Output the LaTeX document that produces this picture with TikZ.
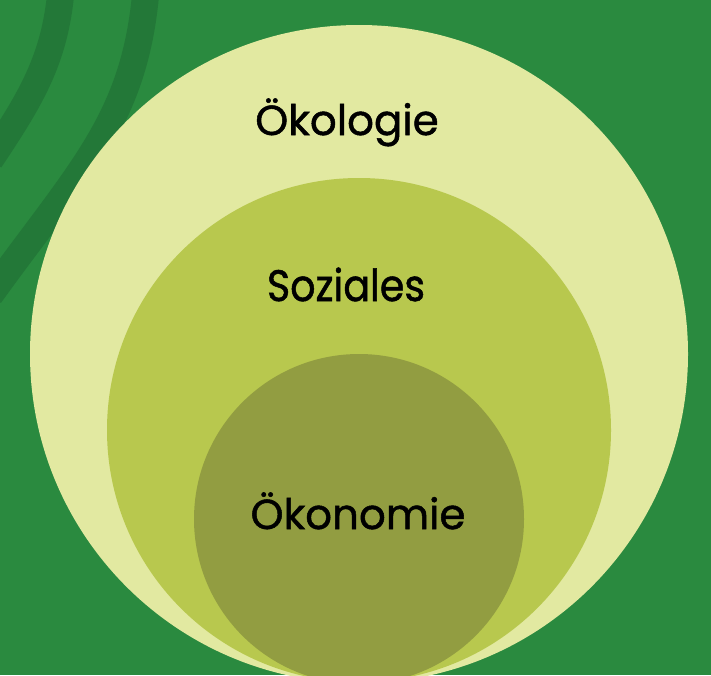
\documentclass[tikz,border=0pt]{standalone}
\usepackage{fontspec}
\setmainfont{Poppins}
\newfontfamily\labelfont{Poppins}[FakeBold=1.2]
\definecolor{bggreen}{HTML}{2A8A3F}
\definecolor{stripegreen}{HTML}{237838}
\definecolor{outerfill}{HTML}{E2E9A1}
\definecolor{middlefill}{HTML}{B8C84E}
\definecolor{innerfill}{HTML}{929D41}
\tikzset{
  ring/.style={draw=none},
  stripe/.style={stripegreen,line width=27pt},
  label/.style={anchor=base,text=black,inner sep=0pt}
}
\begin{document}
\begin{tikzpicture}[x=1pt,y=-1pt]
\useasboundingbox (0,0) rectangle (711,675);
\fill [bggreen] (0,0) rectangle (711,675);
\begin{scope}
\clip (0,0) rectangle (711,675);
% stripes in the corner
\draw [stripe] (61,-10) .. controls (55,60) and (30,100) .. (-10,160);
\draw [stripe] (146,-10) .. controls (135,120) and (80,170) .. (-10,295);
% the three circles
\fill [ring,outerfill] (359,354) circle (329);
\fill [ring,middlefill] (359,430) circle (252);
\fill [ring,innerfill] (359,519) circle (165);
\end{scope}
                            	\node [label,font=\labelfont\fontsize{42}{42}\selectfont] (oekologie) at (347,135) {Ökologie};
                            	\node [label,xscale=0.9,font=\labelfont\fontsize{44}{44}\selectfont] (soziales) at (346,301) {Soziales};
                            	\node [label,font=\labelfont\fontsize{42}{42}\selectfont] (oekonomie) at (358,529) {Ökonomie};
\end{tikzpicture}
\end{document}
